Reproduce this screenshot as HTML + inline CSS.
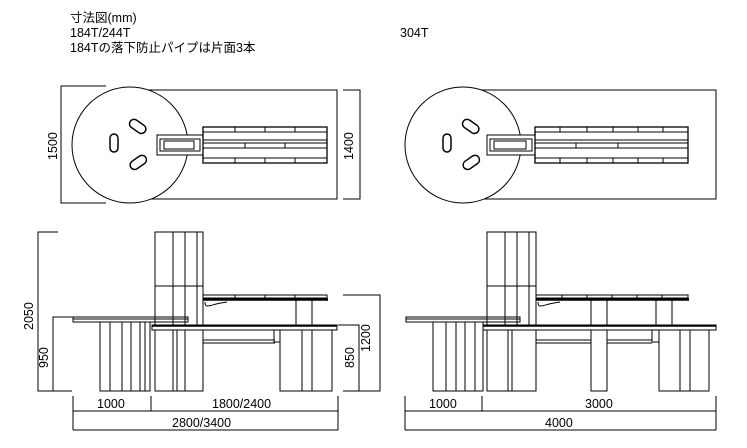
<!DOCTYPE html>
<html><head><meta charset="utf-8"><style>
body{margin:0;background:#fff}
svg{display:block}
text{font-family:"Liberation Sans","Noto Sans CJK JP",sans-serif;font-size:12.5px;fill:#000}
</style></head><body>
<svg width="747" height="448" viewBox="0 0 747 448" xmlns="http://www.w3.org/2000/svg" fill="none" stroke="#000" stroke-width="1">
<g stroke="none">
<text x="70" y="22" font-size="12">寸法図(mm)</text>
<text x="70" y="37" font-size="12">184T/244T</text>
<text x="70" y="52" font-size="12">184Tの落下防止パイプは片面3本</text>
<text x="400" y="37" font-size="12">304T</text>
</g>

<!-- LEFT PLAN -->
<path d="M106 86H61V203H106"/>
<path d="M130 90H337V199H130"/>
<circle cx="130" cy="145" r="58" fill="#fff"/>
<path d="M343 90H360V199H343"/>
<text x="0" y="0" transform="translate(57,160) rotate(-90)" stroke="none">1500</text>
<text x="0" y="0" transform="translate(353,160) rotate(-90)" stroke="none">1400</text>
<g>
<rect x="110" y="134" width="8" height="18" rx="4" stroke-width="1.5"/>
<rect x="129" y="122" width="18" height="9" rx="4.5" transform="rotate(35 138 126)" stroke-width="1.5"/>
<rect x="129" y="158" width="18" height="9" rx="4.5" transform="rotate(-35 138 162)" stroke-width="1.5"/>
</g>
<rect x="157" y="135" width="46" height="20" fill="#fff"/>
<rect x="160" y="139" width="40" height="12"/>
<rect x="164" y="141" width="30" height="8"/>
<g>
<rect x="203" y="127" width="124" height="36" fill="#fff" stroke-width="1.3"/>
<path d="M203 132H327M203 158H327M203 140H327M203 148H327M203 143H327"/>
<path d="M235 127V132M265 127V132M295 127V132M235 158V163M265 158V163M295 158V163M245 143V148M285 143V148"/>
</g>

<!-- RIGHT PLAN -->
<path d="M463 90H716V199H463"/>
<circle cx="463" cy="145" r="58" fill="#fff"/>
<g transform="translate(333,0)">
<rect x="110" y="134" width="8" height="18" rx="4" stroke-width="1.5"/>
<rect x="129" y="122" width="18" height="9" rx="4.5" transform="rotate(35 138 126)" stroke-width="1.5"/>
<rect x="129" y="158" width="18" height="9" rx="4.5" transform="rotate(-35 138 162)" stroke-width="1.5"/>
</g>
<rect x="487" y="135" width="48" height="20" fill="#fff"/>
<rect x="490" y="139" width="42" height="12"/>
<rect x="494" y="141" width="32" height="8"/>
<rect x="535" y="127" width="153" height="36" fill="#fff" stroke-width="1.3"/>
<path d="M535 132H688M535 158H688M535 140H688M535 148H688M535 143H688"/>
<path d="M560 127V132M587 127V132M613 127V132M638 127V132M663 127V132M560 158V163M587 158V163M613 158V163M638 158V163M663 158V163M576 143V148M618 143V148"/>

<!-- LEFT ELEVATION -->
<path d="M58 232H38V391H72M73 317H53V391"/>
<text x="0" y="0" transform="translate(33,330) rotate(-90)" stroke="none">2050</text>
<text x="0" y="0" transform="translate(48,368) rotate(-90)" stroke="none">950</text>
<rect x="155" y="232" width="48" height="159"/>
<path d="M173 232V391M185 232V391M197 232V391M155 286H203"/>
<rect x="73" y="317" width="115" height="5"/>
<path d="M73 319H188"/>
<rect x="100" y="322" width="50" height="69" fill="#fff"/>
<path d="M110 322V391M122 322V391M131 322V391M140 322V391M145 322V391"/>
<rect x="203" y="295" width="124" height="3" fill="#fff"/>
<path d="M203 299.5H328" stroke-width="2.5"/>
<path d="M235 295V298M265 295V298M295 295V298"/>
<path d="M205 302C205 310 210 304 227 302"/>
<rect x="296" y="300" width="16" height="25"/>
<rect x="152" y="325" width="185" height="5" fill="#fff"/>
<path d="M152 326H337" stroke-width="1.5"/>
<rect x="155" y="330" width="48" height="61" fill="#fff"/>
<path d="M173 330V391M177 330V391M185 330V391"/>
<path d="M203 340H275M203 343H275"/>
<rect x="274" y="330" width="15" height="12"/>
<rect x="280" y="330" width="52" height="61" fill="#fff"/>
<path d="M302 330V391M312 330V391"/>
<path d="M343 295H380V391H343M338 325H359V391"/>
<text x="0" y="0" transform="translate(354,368) rotate(-90)" stroke="none">850</text>
<text x="0" y="0" transform="translate(370,352) rotate(-90)" stroke="none">1200</text>
<path d="M73 396V430M151 396V411M338 396V430M73 411H338M73 430H338"/>
<text x="97" y="408" stroke="none">1000</text>
<text x="212" y="408" stroke="none">1800/2400</text>
<text x="172" y="427" stroke="none">2800/3400</text>

<!-- RIGHT ELEVATION -->
<rect x="487" y="232" width="49" height="159"/>
<path d="M505 232V391M517 232V391M529 232V391M487 286H536"/>
<rect x="406" y="317" width="114" height="5"/>
<path d="M406 319H520"/>
<rect x="433" y="322" width="50" height="69" fill="#fff"/>
<path d="M446 322V391M456 322V391M465 322V391M475 322V391"/>
<rect x="536" y="295" width="152" height="3" fill="#fff"/>
<path d="M536 299.5H689" stroke-width="2.5"/>
<path d="M562 295V298M587 295V298M612 295V298M637 295V298M662 295V298"/>
<path d="M538 302C538 310 543 304 560 302"/>
<rect x="591" y="300" width="16" height="25"/>
<rect x="656" y="300" width="16" height="25"/>
<rect x="483" y="325" width="233" height="5" fill="#fff"/>
<path d="M483 326H716" stroke-width="1.5"/>
<rect x="487" y="330" width="49" height="61" fill="#fff"/>
<path d="M508 330V391M512 330V391"/>
<path d="M536 340H652M536 343H652"/>
<rect x="591" y="330" width="16" height="61" fill="#fff"/>
<rect x="652" y="330" width="15" height="12"/>
<rect x="659" y="330" width="50" height="61" fill="#fff"/>
<path d="M680 330V391M690 330V391"/>
<path d="M405 396V430M482 396V411M716 396V430M405 411H716M405 430H716"/>
<text x="429" y="408" stroke="none">1000</text>
<text x="585" y="408" stroke="none">3000</text>
<text x="545" y="427" stroke="none">4000</text>
</svg>
</body></html>
